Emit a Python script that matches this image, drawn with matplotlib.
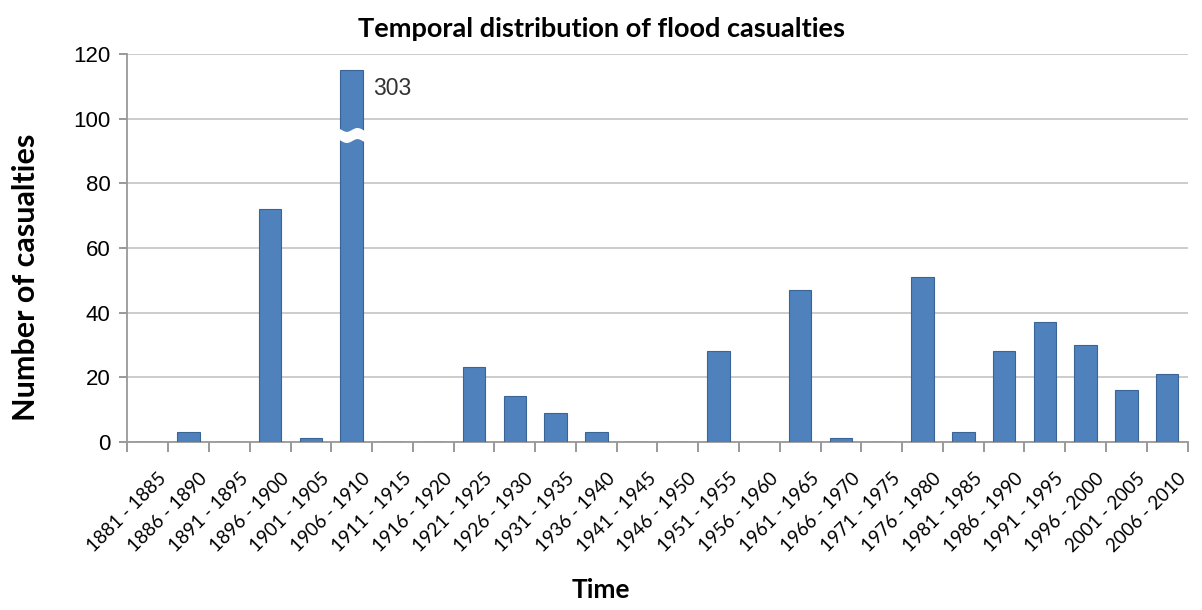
import matplotlib
matplotlib.use("Agg")
import matplotlib.pyplot as plt
import matplotlib.transforms as mtransforms
import numpy as np

# data
periods = ["1881 - 1885", "1886 - 1890", "1891 - 1895", "1896 - 1900", "1901 - 1905",
           "1906 - 1910", "1911 - 1915", "1916 - 1920", "1921 - 1925", "1926 - 1930",
           "1931 - 1935", "1936 - 1940", "1941 - 1945", "1946 - 1950", "1951 - 1955",
           "1956 - 1960", "1961 - 1965", "1966 - 1970", "1971 - 1975", "1976 - 1980",
           "1981 - 1985", "1986 - 1990", "1991 - 1995", "1996 - 2000", "2001 - 2005",
           "2006 - 2010"]
casualties = [0, 3, 0, 72, 1, 303, 0, 0, 23, 14, 9, 3, 0, 0, 28, 0, 47, 1, 0, 51,
              3, 28, 37, 30, 16, 21]
y_cap = 115          # broken bar is cut off here
break_lo, break_hi = 93.5, 96.5

bar_col = "#4f81bd"
edge_col = "#3a6496"

plt.rcParams['font.family'] = ['Lato', 'DejaVu Sans']

fig = plt.figure(figsize=(12.02, 6.10), dpi=100)
ax = fig.add_axes([0.106, 0.276, 0.882, 0.635])

x = np.arange(len(periods))
shown = [min(v, y_cap) for v in casualties]
ax.bar(x, shown, width=0.55, color=bar_col, edgecolor=edge_col, linewidth=0.8, zorder=3)

# axis break on the tall bar + value label
for i, v in enumerate(casualties):
    if v > y_cap:
        xs = np.linspace(i - 0.36, i + 0.36, 30)
        wave = 0.6 * np.sin((xs - i) * 12)
        ax.fill_between(xs, break_lo + wave, break_hi + wave, color="white", zorder=4)
        ax.text(i + 0.52, 109.5, str(v), fontsize=16.5, family="Liberation Sans",
                color="#333333", va="center", ha="left", zorder=5)

ax.set_xlim(-0.5, len(periods) - 0.5)
ax.set_ylim(0, 120)
ax.set_yticks(np.arange(0, 121, 20))
ax.yaxis.grid(True, color="#c4c4c4", linewidth=1.2, zorder=0)
ax.set_axisbelow(True)

# category labels centered, tick marks between categories
ax.set_xticks(x)
ax.set_xticklabels(periods, rotation=45, ha="right", rotation_mode="anchor",
                   fontsize=13.5)
ax.tick_params(axis="x", length=0, pad=20)
shift = mtransforms.ScaledTranslation(10 / 100, 0, fig.dpi_scale_trans)
for lab in ax.get_xticklabels():
    lab.set_transform(lab.get_transform() + shift)
ax.set_xticks(np.arange(-0.5, len(periods), 1), minor=True)
ax.tick_params(axis="x", which="minor", length=7, color="#888888", width=1.2)
ax.tick_params(axis="y", length=6, color="#888888", width=1.2, labelsize=16, pad=6)
for lab in ax.get_yticklabels():
    lab.set_family("Liberation Sans")

for s in ["top", "right"]:
    ax.spines[s].set_visible(False)
for s in ["left", "bottom"]:
    ax.spines[s].set_color("#999999")
    ax.spines[s].set_linewidth(1.3)

fig.text(0.5, 0.953, "Temporal distribution of flood casualties", fontsize=19.5,
         fontweight="bold", ha="center", va="center")
ax.set_ylabel("Number of casualties", fontsize=22, fontweight="bold")
ax.yaxis.set_label_coords(-0.082, 0.425)
fig.text(0.5, 0.02, "Time", fontsize=19, fontweight="bold", ha="center")

fig.savefig("out.png", dpi=100)
